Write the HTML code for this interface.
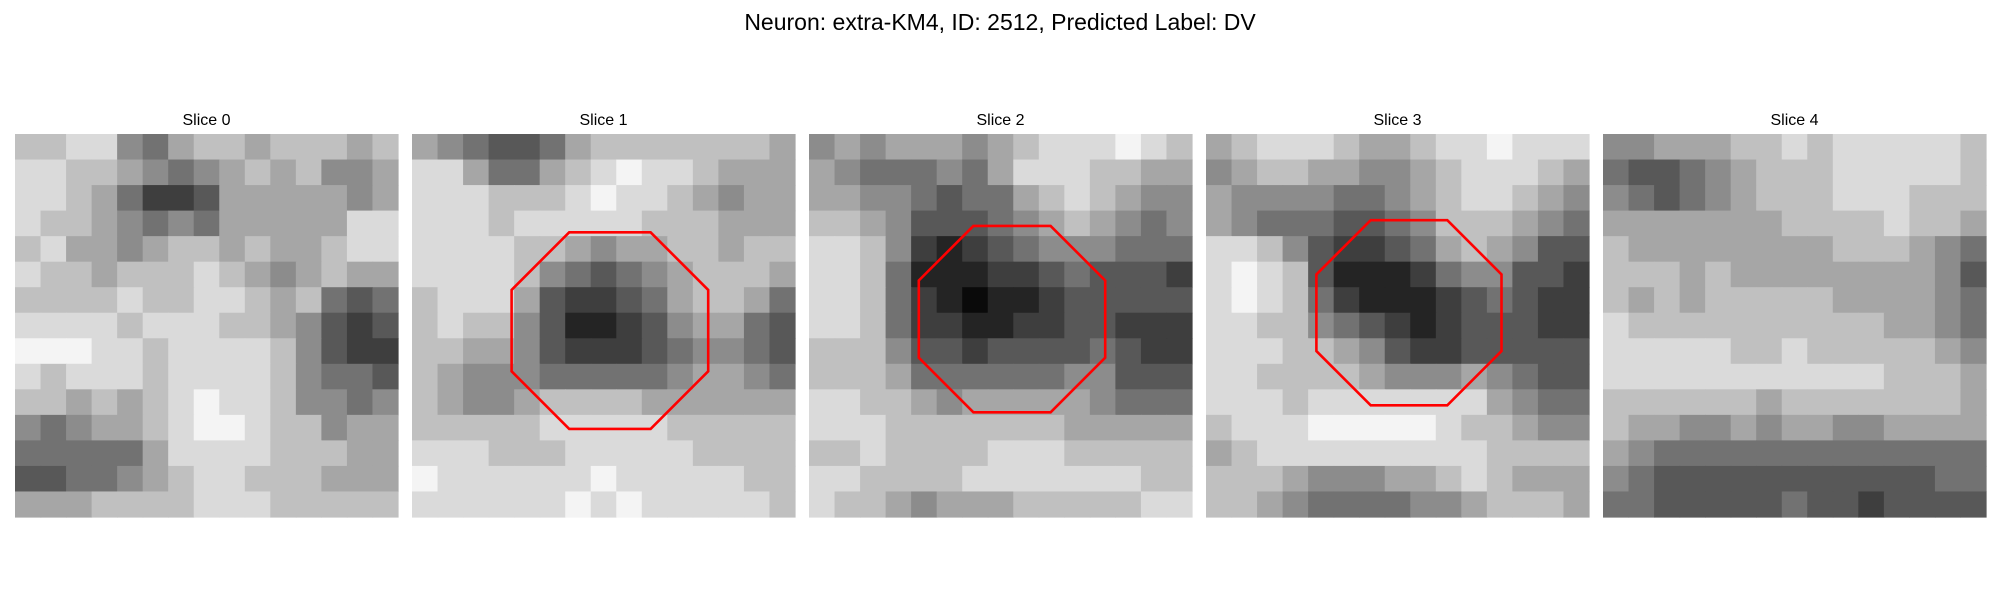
<!DOCTYPE html>
<html><head><meta charset="utf-8"><style>
html,body{margin:0;padding:0;background:#fff;width:2000px;height:600px;overflow:hidden}
svg{display:block}
text{font-family:"Liberation Sans","DejaVu Sans",sans-serif}
</style></head><body>
<svg id="fig" width="2000" height="600" viewBox="0 0 2000 600" xmlns="http://www.w3.org/2000/svg">
<text x="1000" y="30" text-anchor="middle" font-size="23" fill="#000">Neuron: extra-KM4, ID: 2512, Predicted Label: DV</text>
</svg>
<script>
const sliceTitles = ["Slice 0","Slice 1","Slice 2","Slice 3","Slice 4"];
const slice0 = ["778854677677767","887765456767556","887642236666656","877654546666688","786656776766788","877677787656766","777787788767434","888878887765323","999887888875322","878887888875443","776767898875545","545667899877566","444446888877766","334456788777666","666777788877777"];
const slice1 = ["654334677777776","886446789887666","888777898876566","888788888777666","888877656677677","888875434567776","788863223467764","787753112356643","776653222345543","765554444456654","765567777666666","777778888877777","888777888887777","988888898888877","888888989888887"];
const slice2 = ["565666567888987","654445468887766","665543446787655","776533345676545","887521234555444","887411122343332","887421011233333","887422112233222","777533233334322","777644444455333","887765666665444","888777777766666","778777788877777","887777888888877","877656667777788"];
const slice3 = ["678887667889888","567766556788876","655554456788765","654443345777654","887532234676533","898731112455332","898742111234322","887754321233322","888776532233333","887777655565433","888788888886544","788899999877655","678888888887777","777655566787666","776544445567776"];
const slice4 = ["556667787888887","433456777888887","543456777888777","666666677778776","766666666777654","777676666666653","767677777666654","877777777776654","888887787777765","888888888887776","777777677777776","766556566556666","654444444444444","543333333333344","443333343323333"];
const slices = [slice0, slice1, slice2, slice3, slice4];
// ROI octagons (in 30-pixel image coordinates); null = none
const roiCx = [null, 15.5, 15.9, 15.9, null];
const roiCy = [null, 15.4, 14.5, 14.0, null];
const roiR  = [null, 7.7, 7.3, 7.25, null];

const NS = "http://www.w3.org/2000/svg";
const svg = document.getElementById("fig");
const panelX0 = 15, panelStep = 397, panelY = 134, panelSize = 383;
const imgN = 30;
function gray(v){ const g = Math.round(v*26+10); return `rgb(${g},${g},${g})`; }
slices.forEach((grid, si) => {
  const px = panelX0 + si*panelStep;
  const g = document.createElementNS(NS, "g");
  
  
  svg.appendChild(g);
  const t = document.createElementNS(NS, "text");
  
  
  t.setAttribute("x", px + panelSize/2);
  t.setAttribute("y", 125);
  t.setAttribute("text-anchor", "middle");
  t.setAttribute("font-size", "16");
  t.textContent = sliceTitles[si];
  g.appendChild(t);
  const rows = grid.length, cols = grid[0].length;
  const cw = panelSize/cols, ch = panelSize/rows;
  for (let r=0;r<rows;r++) for (let c=0;c<cols;c++) {
    const rect = document.createElementNS(NS, "rect");
    
    
    rect.setAttribute("x", (px + c*cw).toFixed(2));
    rect.setAttribute("y", (panelY + r*ch).toFixed(2));
    rect.setAttribute("width", (cw+0.6).toFixed(2));
    rect.setAttribute("height", (ch+0.6).toFixed(2));
    rect.setAttribute("fill", gray(+grid[r][c]));
    g.appendChild(rect);
  }
  if (roiR[si] !== null) {
    const sc = panelSize/imgN;
    const Rc = roiR[si]/Math.cos(Math.PI/8);
    const pts = [];
    for (let k=0;k<8;k++){
      const a = Math.PI/8 + k*Math.PI/4;
      pts.push(((px + (roiCx[si] + Rc*Math.cos(a))*sc)).toFixed(1) + "," + ((panelY + (roiCy[si] + Rc*Math.sin(a))*sc)).toFixed(1));
    }
    const poly = document.createElementNS(NS, "polygon");
    
    
    poly.setAttribute("points", pts.join(" "));
    poly.setAttribute("fill", "none");
    poly.setAttribute("stroke", "#ff0000");
    poly.setAttribute("stroke-width", "2.6");
    g.appendChild(poly);
  }
});
</script>
</body></html>
